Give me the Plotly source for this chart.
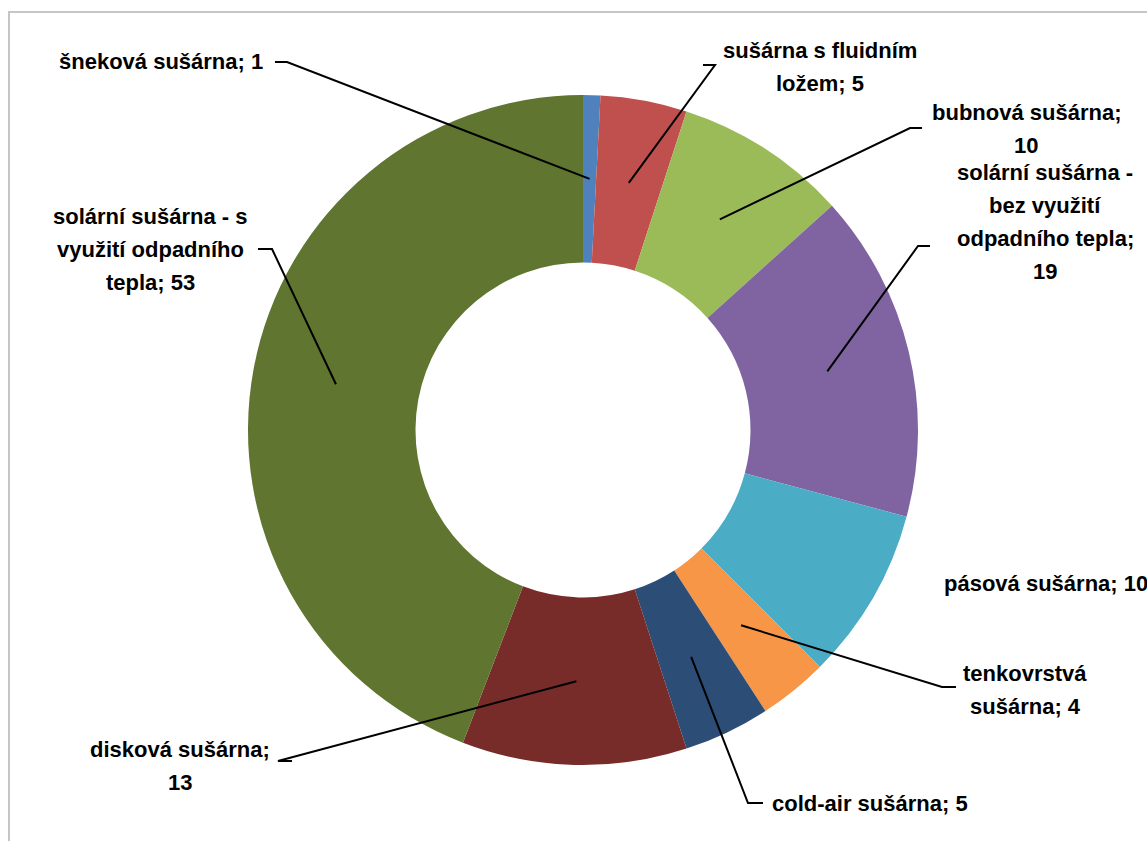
import math
import plotly.graph_objects as go

# ---- data ----
categories = [
    "šneková sušárna",
    "sušárna s fluidním ložem",
    "bubnová sušárna",
    "solární sušárna - bez využití odpadního tepla",
    "pásová sušárna",
    "tenkovrstvá sušárna",
    "cold-air sušárna",
    "disková sušárna",
    "solární sušárna - s využití odpadního tepla",
]
values = [1, 5, 10, 19, 10, 4, 5, 13, 53]
colors = ["#4F81BD", "#C0504D", "#9BBB59", "#8064A2", "#4BACC6",
          "#F79646", "#2C4D75", "#772C2A", "#5F7530"]

# label text lines (as shown on the chart)
label_lines = [
    ["šneková sušárna; 1"],
    ["sušárna s fluidním", "ložem; 5"],
    ["bubnová sušárna;", "10"],
    ["solární sušárna -", "bez využití", "odpadního tepla;", "19"],
    ["pásová sušárna; 10"],
    ["tenkovrstvá", "sušárna; 4"],
    ["cold-air sušárna; 5"],
    ["disková sušárna;", "13"],
    ["solární sušárna - s", "využití odpadního", "tepla; 53"],
]

# ---- layout / style (pixels) ----
W, H = 1147, 841
CX, CY, R = 583, 430, 335
HOLE = 0.5
# label placement: (x, anchor, first line y)
label_pos = [
    (161, "center", 62),
    (820, "center", 51),
    (1026, "center", 113),
    (1045, "center", 172),
    (942, "left", 583),
    (1025, "center", 673),
    (770, "left", 803),
    (180, "center", 749),
    (150, "center", 217),
]
LINE_H = 33
# leader line kink: (x_start_near_text, x_kink, y) or None
leader = [
    (275, 287, 62),
    (703, 715, 65),
    (922, 910, 128),
    (930, 918, 246),
    None,
    (956, 942, 687),
    (763, 748, 803),
    (292, 278, 761),
    (258, 272, 249),
]


def px(x):
    return x / W


def py(y):
    return 1 - y / H


fig = go.Figure(go.Pie(
    labels=categories,
    values=values,
    hole=HOLE,
    sort=False,
    direction="clockwise",
    rotation=0,
    marker=dict(colors=colors, line=dict(width=0)),
    textinfo="none",
    hoverinfo="label+value",
    showlegend=False,
    domain=dict(x=[px(CX - R), px(CX + R)], y=[py(CY + R), py(CY - R)]),
))

font = dict(family="Liberation Sans, Arial, sans-serif", size=22, color="black", weight="bold")
annotations = []
for lines, (lx, anchor, ly) in zip(label_lines, label_pos):
    for i, t in enumerate(lines):
        annotations.append(dict(
            x=px(lx), y=py(ly + i * LINE_H), xref="paper", yref="paper",
            text=t, showarrow=False, xanchor=anchor, yanchor="middle", font=font,
        ))

shapes = [dict(type="rect", xref="paper", yref="paper",
               x0=px(9), y0=py(860), x1=px(1170), y1=py(12),
               line=dict(color="#C6C6C6", width=2), fillcolor="rgba(0,0,0,0)")]

total = sum(values)
cum = 0
rmid = R * (1 + HOLE) / 2
for v, ld in zip(values, leader):
    mid = (cum + v / 2) / total * 2 * math.pi
    cum += v
    if ld is None:
        continue
    ex = CX + rmid * math.sin(mid)
    ey = CY - rmid * math.cos(mid)
    x0, xk, yk = ld
    path = f"M {px(x0)},{py(yk)} L {px(xk)},{py(yk)} L {px(ex)},{py(ey)}"
    shapes.append(dict(type="path", xref="paper", yref="paper", path=path,
                       line=dict(color="black", width=2)))

fig.update_layout(
    width=W, height=H,
    margin=dict(l=0, r=0, t=0, b=0),
    paper_bgcolor="white",
    plot_bgcolor="white",
    annotations=annotations,
    shapes=shapes,
)

fig.write_html("out.html")
